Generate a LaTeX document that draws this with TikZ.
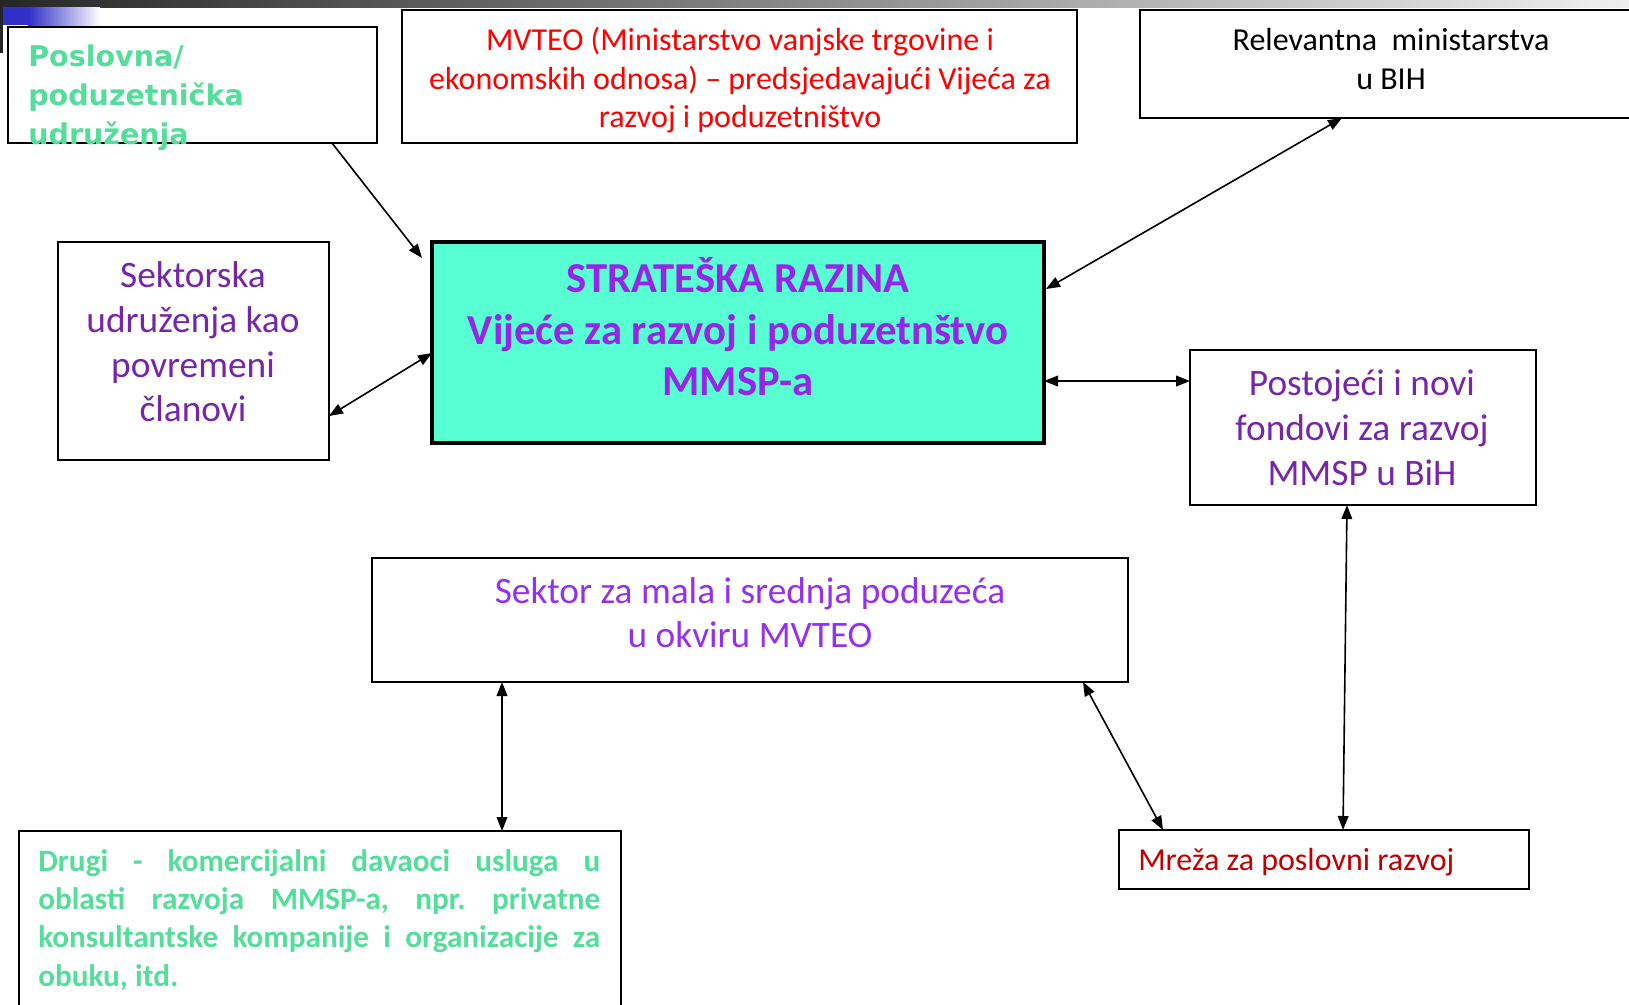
\documentclass[tikz,border=0pt]{standalone}
\usepackage{fontspec}
\setmainfont{Carlito}
\newfontfamily\tahoma{DejaVu Sans}
\usetikzlibrary{arrows.meta,calc}
\definecolor{mintfill}{RGB}{87,255,211}
\definecolor{greentxt}{RGB}{85,222,155}
\definecolor{brightpurple}{RGB}{150,36,235}
\definecolor{darkpurple}{RGB}{118,38,168}
\definecolor{ltpurple}{RGB}{148,48,240}
\definecolor{darkred}{RGB}{192,0,0}
\definecolor{decoblue}{RGB}{48,48,200}
\newcommand{\jline}[1]{\makebox[421.5pt][s]{\frenchspacing\spaceskip=0.25em plus 1fil\xspaceskip=0.25em plus 1fil\relax #1}}
\newcommand{\nline}[1]{\makebox[0pt][l]{\frenchspacing\spaceskip=0.23em\xspaceskip=0.23em\relax #1}}
\begin{document}
\begin{tikzpicture}[x=0.75pt,y=-0.75pt,
  boxn/.style={draw=black,line width=1.1pt,inner sep=0pt,outer sep=0pt,anchor=north west,fill=white},
  txt/.style={inner sep=0pt,outer sep=0pt,align=center},
  arr/.style={line width=1.2pt,-{Triangle[length=10.5pt,width=8pt]}},
  barr/.style={line width=1.2pt,{Triangle[length=10.5pt,width=8pt]}-{Triangle[length=10.5pt,width=8pt]}}]
\path[use as bounding box,clip] (0,0) rectangle (1629,1004);
% decorative top bar
\shade[left color=black!85,right color=black!6] (0,0) rectangle (1629,7);
\fill[decoblue] (3,7) rectangle (28,25);
\shade[left color=decoblue,right color=white] (28,7) rectangle (100,25);
\fill[black!85] (0,7) rectangle (3,53);
% boxes
\node[boxn,minimum width=276.75pt,minimum height=87pt] (box1) at (8,27) {};
\node[boxn,minimum width=506.25pt,minimum height=99.75pt] (mvteo) at (402,10) {};
\node[boxn,minimum width=377.25pt,minimum height=81pt] (relev) at (1140,10) {};
\node[boxn,minimum width=203.25pt,minimum height=163.5pt] (sekt) at (58,242) {};
\node[boxn,minimum width=459pt,minimum height=150.75pt,line width=3.2pt,fill=mintfill] (central) at (432,242) {};
\node[boxn,minimum width=259.5pt,minimum height=116.25pt] (post) at (1190,350) {};
\node[boxn,minimum width=567pt,minimum height=93pt] (sektor) at (372,558) {};
\node[boxn,minimum width=451.5pt,minimum height=150pt] (drugi) at (19,831) {};
\node[boxn,minimum width=307.5pt,minimum height=44.25pt] (mreza) at (1119,830) {};
% texts
\node[inner sep=0pt,anchor=north west,align=left,text=greentxt,font=\tahoma\bfseries\fontsize{21.4}{28.9}\selectfont] (t1) at (28,45) {Poslovna/\\poduzetnička\\udruženja};
\node[txt,text=red,font=\fontsize{24}{28.9}\selectfont] (t2) at (740,80.5) {MVTEO (Ministarstvo vanjske trgovine i\\ekonomskih odnosa) – predsjedavajući Vijeća za\\razvoj i poduzetništvo};
\node[txt,text=black,font=\fontsize{24}{28.9}\selectfont] (t3) at (1391,59) {Relevantna~ ministarstva\\u BIH};
\node[txt,text=darkpurple,font=\fontsize{28}{33.5}\selectfont] (t4) at (193,342) {Sektorska\\udruženja kao\\povremeni\\članovi};
\node[txt,text=brightpurple,font=\bfseries\fontsize{32}{38.6}\selectfont] (t5) at (738,327) {STRATEŠKA RAZINA\\Vijeće za razvoj i poduzetnštvo\\MMSP-a};
\node[txt,text=darkpurple,font=\fontsize{28}{33.75}\selectfont] (t6) at (1362,428) {Postojeći i novi\\fondovi za razvoj\\MMSP u BiH};
\node[txt,text=ltpurple,font=\fontsize{28}{33}\selectfont] (t7) at (750,613) {Sektor za mala i srednja poduzeća\\u okviru MVTEO};
\node[inner sep=0pt,anchor=north west,align=left,text width=421.5pt,text=greentxt,font=\bfseries\fontsize{23.4}{28.8}\selectfont] (t8) at (38,849)
  {\jline{Drugi - komercijalni davaoci usluga u}\\
   \jline{oblasti razvoja MMSP-a, npr. privatne}\\
   \jline{konsultantske kompanije i organizacije za}\\
   \nline{obuku, itd.}};
\node[inner sep=0pt,anchor=base west,text=darkred,font=\fontsize{24}{28}\selectfont] (t9) at (1138,870) {Mreža za poslovni razvoj};
% connectors
\draw[arr] ($(box1.south west)+(324,0)$) -- ($(central.north west)+(-10,16)$);
\draw[barr] ($(sekt.south east)+(0,-44)$) -- ($(central.north west)+(0,111)$);
\draw[barr] ($(central.north east)+(2,47)$) -- ($(relev.south west)+(202,0)$);
\draw[barr] ($(central.north east)+(0,139)$) -- ($(post.north west)+(0,31)$);
\draw[barr] ($(post.south west)+(157,0)$) -- ($(mreza.north west)+(224,0)$);
\draw[barr] ($(sektor.south west)+(711,0)$) -- ($(mreza.north west)+(44,0)$);
\draw[barr] ($(sektor.south west)+(130,0)$) -- ($(drugi.north west)+(483,0)$);
\end{tikzpicture}
\end{document}
